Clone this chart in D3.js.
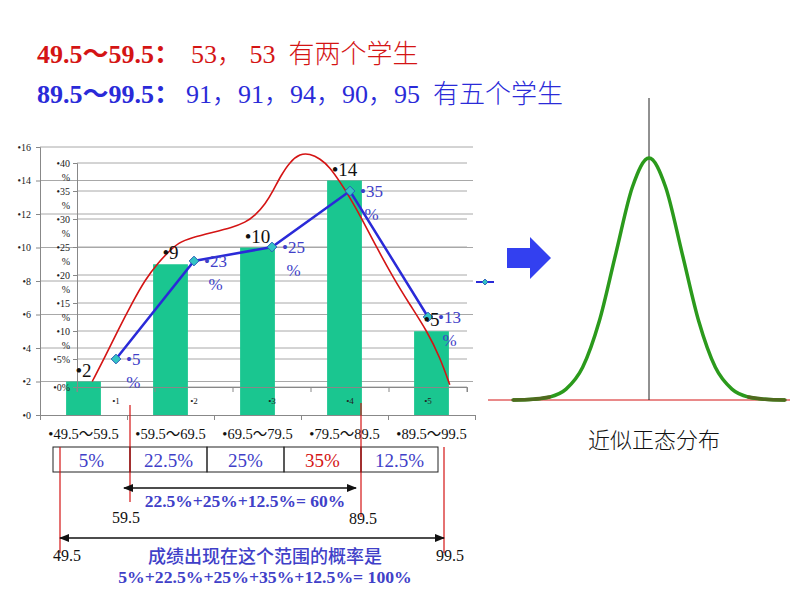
<!DOCTYPE html>
<html>
<head>
<meta charset="utf-8">
<script src="https://cdn.jsdelivr.net/npm/d3@7"></script>
<style>
  body { margin: 0; background: #fff; }
  svg { display: block; }
  text { font-family: "Liberation Serif", "Noto Sans CJK SC", serif; }
</style>
</head>
<body>
<div id="chart"></div>
<script>
const groups = ["49.5～59.5", "59.5～69.5", "69.5～79.5", "79.5～89.5", "89.5～99.5"];
const counts = [2, 9, 10, 14, 5];
const percents = [5, 22.5, 25, 35, 12.5];
const percentLabels = ["5", "23", "25", "35", "13"];
const boxLabels = ["5%", "22.5%", "25%", "35%", "12.5%"];
const innerCats = ["1", "2", "3", "4", "5"];
const countTicks = [0, 2, 4, 6, 8, 10, 12, 14, 16];
const percentTicks = [0, 5, 10, 15, 20, 25, 30, 35, 40];
const scoreEdges = [49.5, 59.5, 69.5, 79.5, 89.5, 99.5];

// hand drawn red curve as [score, count]
const redCurve = [
  [55.5, 2.0], [57.0, 3.5], [58.5, 5.1], [60.1, 6.7], [61.6, 8.1], [63.1, 9.1],
  [64.2, 9.7], [65.4, 10.3], [67.0, 10.6], [69.3, 10.9], [71.6, 11.2], [73.1, 11.5],
  [74.2, 11.9], [75.4, 12.6], [76.3, 13.4], [77.2, 14.3], [78.2, 15.1], [79.4, 15.6],
  [80.5, 15.6], [81.7, 15.3], [82.8, 14.8], [84.0, 13.9], [85.1, 13.0], [86.3, 11.9],
  [88.2, 10.0], [90.1, 8.2], [92.0, 6.6], [94.0, 5.0], [95.5, 3.4], [96.6, 1.8]
];

// bell curve on the right, read as [offset in sd, relative height]
const bell = [
  [-4.1, 0], [-3.5, 0.003], [-3, 0.012], [-2.5, 0.045], [-2, 0.135], [-1.5, 0.325],
  [-1, 0.605], [-0.5, 0.88], [0, 1], [0.5, 0.88], [1, 0.605], [1.5, 0.325],
  [2, 0.135], [2.5, 0.045], [3, 0.012], [3.5, 0.003], [4.1, 0]
];

const title1 = { bold: "49.5～59.5：", rest: "53， 53  有两个学生" };
const title2 = { bold: "89.5～99.5：", rest: "91，91，94，90，95  有五个学生" };
const sum1 = "22.5%+25%+12.5%= 60%";
const sum2 = "5%+22.5%+25%+35%+12.5%= 100%";
const sumTitle = "成绩出现在这个范围的概率是";
const bellTitle = "近似正态分布";

document.addEventListener("DOMContentLoaded", function () {
  const red = "#d41414";
  const blue = "#2a2ad8";
  const labelBlue = "#4040c8";
  const grid = "#a8a8a8";

  const svg = d3
    .select("#chart")
    .append("svg")
    .attr("width", 800)
    .attr("height", 600);

  // titles
  [[title1, red, 63, 191], [title2, blue, 103, 186]].forEach(([t, c, y, restX]) => {
    const txt = svg.append("text").attr("x", 37).attr("y", y)
      .style("font-size", "26px").style("fill", c);
    txt.append("tspan").style("font-weight", "bold").text(t.bold);
    txt.append("tspan").attr("x", restX).attr("xml:space", "preserve")
      .style("font-weight", 300).text(t.rest);
  });

  // outer scales (counts)
  const x = d3.scaleBand().domain(groups).range([40, 475]).paddingInner(0.6).paddingOuter(0.3);
  const xScore = d3.scaleLinear().domain([49.5, 99.5]).range([40, 475]);
  const y = d3.scaleLinear().domain([0, 16]).range([415, 147]);

  // inner scales (percent)
  const xi = d3.scaleBand().domain(innerCats).range([77, 467]);
  const yi = d3.scaleLinear().domain([0, 40]).range([387, 163]);

  // gridlines
  svg.append("g").selectAll("line").data(countTicks.slice(1)).enter().append("line")
    .attr("x1", 40).attr("x2", 473)
    .attr("y1", (d) => y(d)).attr("y2", (d) => y(d))
    .attr("stroke", grid).attr("stroke-width", 1);
  svg.append("g").selectAll("line").data(percentTicks).enter().append("line")
    .attr("x1", 77).attr("x2", 467)
    .attr("y1", (d) => yi(d)).attr("y2", (d) => yi(d))
    .attr("stroke", grid).attr("stroke-width", 1);

  // outer axes
  const yAxis = svg.append("g").attr("transform", "translate(40,0)")
    .call(d3.axisLeft(y).tickValues(countTicks).tickFormat((d) => "•" + d).tickSize(4).tickPadding(5));
  const xAxis = svg.append("g").attr("transform", "translate(0,415)")
    .call(d3.axisBottom(xScore).tickValues(scoreEdges).tickFormat("").tickSize(5));
  [yAxis, xAxis].forEach((a) => {
    a.select(".domain").attr("stroke", "#888");
    a.selectAll(".tick line").attr("stroke", "#888");
    a.selectAll("text").style("font-size", "10px").style("fill", "#222")
      .style("font-family", "Liberation Serif");
  });

  // bars
  svg.append("g").selectAll("rect").data(groups).enter().append("rect")
    .attr("x", (d) => x(d))
    .attr("y", (d, i) => y(counts[i]))
    .attr("width", x.bandwidth())
    .attr("height", (d, i) => y(0) - y(counts[i]))
    .attr("fill", "#1ac690");

  // inner axes
  const yiAxis = svg.append("g").attr("transform", "translate(77,0)")
    .call(d3.axisLeft(yi).tickValues(percentTicks).tickFormat("").tickSize(4));
  const xiAxis = svg.append("g").attr("transform", "translate(0,387)")
    .call(d3.axisBottom(xi).tickSize(5).tickFormat(""));
  xiAxis.selectAll(".tick line").remove();
  xiAxis.append("g").selectAll("line").data(d3.range(innerCats.length + 1)).enter().append("line")
    .attr("x1", (d) => 77 + d * xi.step()).attr("x2", (d) => 77 + d * xi.step())
    .attr("y1", 0).attr("y2", 5);
  [yiAxis, xiAxis].forEach((a) => {
    a.select(".domain").attr("stroke", "#888");
    a.selectAll("line").attr("stroke", "#888");
  });
  const pctLab = svg.append("g").style("font-size", "10px").style("fill", "#222")
    .attr("text-anchor", "end");
  percentTicks.forEach((d) => {
    if (d < 10) {
      pctLab.append("text").attr("x", 70).attr("y", yi(d) + 3.5).text("•" + d + "%");
    } else {
      pctLab.append("text").attr("x", 70).attr("y", yi(d) + 3.5).text("•" + d);
      pctLab.append("text").attr("x", 70).attr("y", yi(d) + 17.5).text("%");
    }
  });
  svg.append("g").selectAll("text").data(innerCats).enter().append("text")
    .attr("x", (d) => xi(d) + xi.bandwidth() / 2)
    .attr("y", 404)
    .attr("text-anchor", "middle")
    .style("font-size", "9px").style("fill", "#222")
    .text((d) => "•" + d);

  // red smooth curve
  svg.append("path").datum(redCurve)
    .attr("d", d3.line().x((d) => xScore(d[0])).y((d) => y(d[1])).curve(d3.curveBasis))
    .attr("fill", "none").attr("stroke", red).attr("stroke-width", 1.6);

  // blue percent line
  const pts = innerCats.map((c, i) => [xi(c) + xi.bandwidth() / 2, yi(percents[i])]);
  svg.append("path").datum(pts)
    .attr("d", d3.line())
    .attr("fill", "none").attr("stroke", blue).attr("stroke-width", 2.5);
  const diamond = d3.symbol().type(d3.symbolDiamond2).size(60);
  svg.append("g").selectAll("path").data(pts).enter().append("path")
    .attr("d", diamond)
    .attr("transform", (d) => `translate(${d[0]},${d[1]})`)
    .attr("fill", "#33c4c4").attr("stroke", "#2a5fb8").attr("stroke-width", 1);

  // bar value labels
  svg.append("g").selectAll("text").data(groups).enter().append("text")
    .attr("x", (d) => x(d) + x.bandwidth() / 2)
    .attr("y", (d, i) => y(counts[i]) - 5)
    .attr("text-anchor", "middle")
    .style("font-size", "19px").style("fill", "#111")
    .text((d, i) => "•" + counts[i]);

  // percent labels on the blue line
  const pl = svg.append("g").style("font-size", "17px").style("fill", labelBlue);
  pts.forEach((p, i) => {
    const t = pl.append("text").attr("x", p[0] + 10).attr("y", p[1] + 6).text("•" + percentLabels[i]);
    const w = t.node().getComputedTextLength();
    pl.append("text").attr("x", p[0] + 10 + w / 2).attr("y", p[1] + 29)
      .attr("text-anchor", "middle").text("%");
  });

  // legend key
  const lg = svg.append("g").attr("transform", "translate(485,282)");
  lg.append("line").attr("x1", -9).attr("x2", 9).attr("stroke", blue).attr("stroke-width", 2);
  lg.append("path").attr("d", d3.symbol().type(d3.symbolDiamond2).size(22))
    .attr("fill", "#33c4c4").attr("stroke", "#2a5fb8");

  // group labels under the chart
  svg.append("g").selectAll("text").data(groups).enter().append("text")
    .attr("x", (d) => x(d) + x.bandwidth() / 2)
    .attr("y", 439)
    .attr("text-anchor", "middle")
    .style("font-size", "14.5px").style("fill", "#111")
    .text((d) => "•" + d);

  // percent box
  const bx = d3.scaleBand().domain(groups).range([53, 438]);
  const box = svg.append("g");
  box.selectAll("rect").data(groups).enter().append("rect")
    .attr("x", (d) => bx(d)).attr("y", 447)
    .attr("width", bx.bandwidth()).attr("height", 25)
    .attr("fill", "none").attr("stroke", "#222").attr("stroke-width", 1);
  box.selectAll("text").data(boxLabels).enter().append("text")
    .attr("x", (d, i) => bx(groups[i]) + bx.bandwidth() / 2)
    .attr("y", 467)
    .attr("text-anchor", "middle")
    .style("font-size", "19px")
    .style("fill", (d, i) => (i === 3 ? red : labelBlue))
    .text((d) => d);

  // red marker lines and range arrows
  const edge = (i) => (i === 0 ? bx(groups[0]) + 7 : i === groups.length ? bx.range()[1] + 6 : bx(groups[i]));
  const marks = [
    { i: 1, y1: 405, y2: 502, label: "59.5", ly: 523, dx: -4 },
    { i: 4, y1: 403, y2: 517, label: "89.5", ly: 524, dx: 2 },
    { i: 0, y1: 447, y2: 553, label: "49.5", ly: 561, dx: 7 },
    { i: 5, y1: 447, y2: 553, label: "99.5", ly: 561, dx: 6 }
  ];
  marks.forEach((m) => {
    svg.append("line").attr("x1", edge(m.i)).attr("x2", edge(m.i))
      .attr("y1", m.y1).attr("y2", m.y2).attr("stroke", red).attr("stroke-width", 1.2);
    svg.append("text").attr("x", edge(m.i) + m.dx).attr("y", m.ly)
      .attr("text-anchor", "middle").style("font-size", "16px").style("fill", "#111").text(m.label);
  });

  const defs = svg.append("defs");
  defs.append("marker").attr("id", "ah").attr("viewBox", "0 0 10 10")
    .attr("refX", 9).attr("refY", 5).attr("markerWidth", 7).attr("markerHeight", 7)
    .attr("orient", "auto-start-reverse")
    .append("path").attr("d", "M0,1 L10,5 L0,9 z").attr("fill", "#111");
  [[1, 4, 488, -6, -5], [0, 5, 538, 0, 0]].forEach(([a, b, yy, da, db]) => {
    svg.append("line").attr("x1", edge(a) + da).attr("x2", edge(b) + db)
      .attr("y1", yy).attr("y2", yy)
      .attr("stroke", "#111").attr("stroke-width", 1.5)
      .attr("marker-start", "url(#ah)").attr("marker-end", "url(#ah)");
  });

  svg.append("text").attr("x", 245).attr("y", 507).attr("text-anchor", "middle")
    .style("font-size", "17.5px").style("font-weight", "bold").style("fill", labelBlue).text(sum1);
  svg.append("text").attr("x", 265).attr("y", 563).attr("text-anchor", "middle")
    .style("font-size", "18px").style("font-weight", 500).style("fill", labelBlue)
    .style("font-family", "Noto Sans CJK SC").text(sumTitle);
  svg.append("text").attr("x", 265).attr("y", 583).attr("text-anchor", "middle")
    .style("font-size", "17.7px").style("font-weight", "bold").style("fill", labelBlue).text(sum2);

  // blue arrow
  svg.append("path")
    .attr("d", "M507,248 L530,248 L530,237 L551,258 L530,279 L530,268 L507,268 Z")
    .attr("fill", "#3340f0");

  // normal curve panel
  const bxs = d3.scaleLinear().domain([-4.1, 4.1]).range([513, 785]);
  const bys = d3.scaleLinear().domain([0, 1]).range([400, 158]);
  svg.append("line").attr("x1", 488).attr("x2", 790).attr("y1", 400).attr("y2", 400)
    .attr("stroke", red).attr("stroke-width", 1);
  svg.append("line").attr("x1", bxs(0)).attr("x2", bxs(0)).attr("y1", 98).attr("y2", 400)
    .attr("stroke", "#222").attr("stroke-width", 1);
  const bellLine = d3.line().x((d) => bxs(d[0])).y((d) => bys(d[1])).curve(d3.curveMonotoneX);
  svg.append("path").datum(bell)
    .attr("d", bellLine)
    .attr("fill", "none").attr("stroke", "#2b9a1c").attr("stroke-width", 3.5)
    .attr("stroke-linejoin", "round");
  // darker flat tails
  [bell.slice(0, 3), bell.slice(-3)].forEach((seg) => {
    svg.append("path").datum(seg).attr("d", bellLine)
      .attr("fill", "none").attr("stroke", "#4f6a1e").attr("stroke-width", 3.5)
      .attr("stroke-linecap", "round");
  });
  svg.append("text").attr("x", 654).attr("y", 448).attr("text-anchor", "middle")
    .style("font-size", "22px").style("font-weight", 300).style("fill", "#111")
    .style("font-family", "Noto Sans CJK SC").text(bellTitle);
});
</script>
</body>
</html>
